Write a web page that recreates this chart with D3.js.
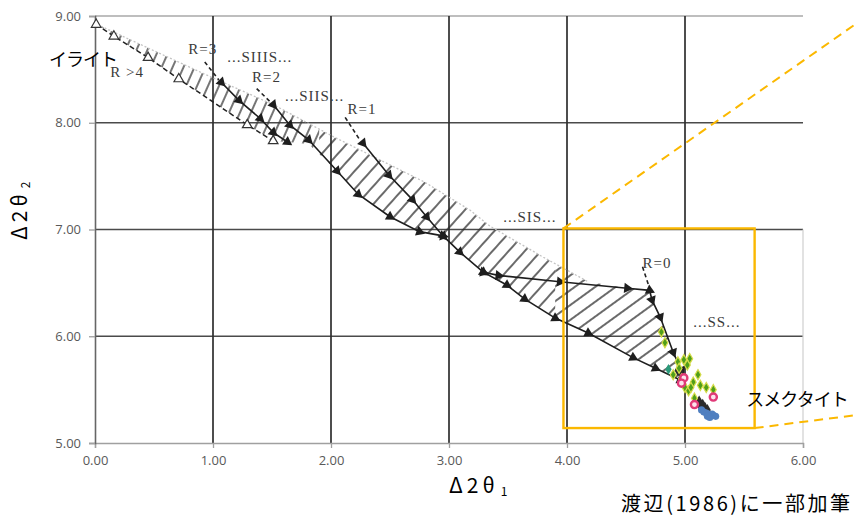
<!DOCTYPE html>
<html><head><meta charset="utf-8">
<script src="https://cdn.jsdelivr.net/npm/d3@7/dist/d3.min.js"></script>
<style>body{margin:0;background:#fff}svg{display:block}</style>
</head><body><svg id="c" width="855" height="516"></svg>
<script>
// ---------- data ----------
const xTicks = [0, 1, 2, 3, 4, 5, 6];
const yTicks = [5, 6, 7, 8, 9];
const xDomain = [0, 6];
const yDomain = [5, 9];

// R>4 lower boundary (open triangles, dashed)
const rOver4 = [[0.01,8.92],[0.16,8.81],[0.45,8.61],[0.71,8.41],[1.29,7.98],[1.51,7.83]];
// R=3 line
const r3 = [[1.07,8.38],[1.22,8.21],[1.40,8.04],[1.51,7.91],[1.63,7.82]];
// R=2 line
const r2 = [[1.51,8.17],[1.65,7.98],[1.81,7.84],[2.05,7.55],[2.23,7.33],[2.50,7.12],[2.75,6.98],[2.95,6.94]];
// R=1 line (joins the main lower boundary)
const r1 = [[2.27,7.81],[2.49,7.51],[2.69,7.28],[2.81,7.12],[2.95,6.94],[3.09,6.79],[3.29,6.60],[3.49,6.48],[3.64,6.35],[3.90,6.17],[4.18,6.03],[4.56,5.80],[4.75,5.70],[4.96,5.59]];
// R=0 line
const r0 = [[3.29,6.60],[3.42,6.57],[3.94,6.51],[4.51,6.45],[4.70,6.43],[4.72,6.34],[4.79,6.18],[4.90,5.85],[4.97,5.68]];
// leader dashes above each R line
const leaders = [
  [[0.93,8.57],[1.05,8.40]],
  [[1.37,8.32],[1.49,8.19]],
  [[2.12,8.05],[2.25,7.83]],
  [[4.64,6.65],[4.70,6.45]]
];
// upper (dotted) boundary of the hatched band
const upperBound = [[0.02,8.92],[0.47,8.69],[1.00,8.42],[1.51,8.17],[2.02,7.87],[2.80,7.44],[3.18,7.18],[3.35,7.03],[3.80,6.74],[4.18,6.51]];
// right and lower edges of the hatched band
const rightEdge = [[4.51,6.45],[4.70,6.43],[4.72,6.34],[4.79,6.18],[4.90,5.85],[4.97,5.68],[4.96,5.59]];
const lowerBound = [[0.02,8.92],[0.16,8.81],[0.45,8.61],[0.71,8.41],[1.29,7.98],[1.51,7.83],[1.63,7.82],[1.81,7.80],[2.05,7.55],[2.23,7.33],[2.50,7.12],[2.75,6.98],[2.95,6.94],[3.09,6.79],[3.29,6.60],[3.49,6.48],[3.64,6.35],[3.90,6.17],[4.18,6.03],[4.56,5.80],[4.75,5.70],[4.96,5.59]];

// measured samples
const greenPts = [[4.80,6.04],[4.83,5.94],[4.94,5.76],[4.99,5.78],[5.04,5.79],[5.02,5.73],[4.90,5.64],[4.95,5.70],[5.00,5.52],[5.03,5.49],[5.07,5.57],[5.11,5.64],[5.13,5.54],[5.18,5.52],[5.24,5.50],[5.08,5.42],[4.97,5.60],[5.05,5.52]];
const pinkPts = [[4.99,5.61],[4.97,5.56],[5.24,5.43],[5.08,5.36]];
const tealPts = [[4.86,5.69]];
const bluePts = [[5.14,5.31],[5.16,5.29],[5.18,5.28],[5.20,5.27],[5.22,5.26],[5.24,5.26],[5.26,5.25],[5.19,5.25],[5.23,5.27],[5.21,5.24]];
const darkPts = [[4.94,5.68],[4.96,5.66],[5.12,5.39],[5.15,5.36],[5.17,5.33],[5.19,5.31],[5.13,5.35]];

// zoom box and its guide lines
const zoomBox = [[3.97,7.01],[5.59,5.14]];
const guideLines = [[[3.97,7.01],[6.44,8.92]], [[5.59,5.14],[6.44,5.26]]];

// annotations
const serifLabels = [
  {t:"R >4", x:0.13, y:8.43},
  {t:"R=3", x:0.79, y:8.64},
  {t:"...SIIIS...", x:1.12, y:8.57},
  {t:"R=2", x:1.33, y:8.38},
  {t:"...SIIS...", x:1.61, y:8.20},
  {t:"R=1", x:2.14, y:8.08},
  {t:"...SIS...", x:3.46, y:7.07},
  {t:"R=0", x:4.64, y:6.64},
  {t:"...SS...", x:5.07, y:6.09}
];
const jpLabels = [
  {t:"イライト", x:-0.39, y:8.53},
  {t:"スメクタイト", x:5.52, y:5.35}
];

// ---------- drawing ----------
const svg = d3.select("#c");
const X = d3.scaleLinear().domain(xDomain).range([95, 803]);
const Y = d3.scaleLinear().domain(yDomain).range([443, 16]);
const line = d3.line().x(d => X(d[0])).y(d => Y(d[1]));

// gridlines
svg.append("g").selectAll("line").data(yTicks.filter(v => v > 5)).join("line")
  .attr("x1", X(0)).attr("x2", X(6)).attr("y1", d => Y(d)).attr("y2", d => Y(d))
  .attr("stroke", d => d === 9 ? "#a8a8a8" : "#4a4a4a").attr("stroke-width", 1.6);
svg.append("g").selectAll("line").data(xTicks.filter(v => v > 0 && v < 6)).join("line")
  .attr("x1", d => X(d)).attr("x2", d => X(d)).attr("y1", Y(9)).attr("y2", Y(5))
  .attr("stroke", "#2e2e2e").attr("stroke-width", 1.7);
svg.append("line").attr("x1", X(6)).attr("x2", X(6)).attr("y1", Y(7)).attr("y2", Y(5))
  .attr("stroke", "#cfcfcf").attr("stroke-width", 1.2);

// axes
const xAxis = svg.append("g").attr("transform", `translate(0,${Y(5)})`)
  .call(d3.axisBottom(X).tickValues(xTicks).tickFormat(d3.format(".2f")).tickSize(5).tickPadding(6));
const yAxis = svg.append("g").attr("transform", `translate(${X(0)},0)`)
  .call(d3.axisLeft(Y).tickValues(yTicks).tickFormat(d3.format(".2f")).tickSize(6).tickPadding(8));
xAxis.select(".domain").attr("stroke", "#a0a0a0").attr("stroke-width", 1.4);
yAxis.select(".domain").attr("stroke", "#666").attr("stroke-width", 1.6);
[xAxis, yAxis].forEach(a => {
  a.selectAll(".tick line").attr("stroke", "#a0a0a0").attr("stroke-width", 1.3);
  a.selectAll(".tick text").attr("fill", "#595959").attr("font-family", "'Open Sans', sans-serif").attr("font-size", 13);
});
xAxis.selectAll(".tick text").attr("dy", "0.85em");

// hatched band
const defs = svg.append("defs");
const poly = upperBound.concat(rightEdge, lowerBound.slice().reverse());
defs.append("clipPath").attr("id", "band").append("path").attr("d", line(poly) + "Z");
function hatch(id, angle, gap, color) {
  const p = defs.append("pattern").attr("id", id).attr("patternUnits", "userSpaceOnUse")
    .attr("width", gap).attr("height", 20).attr("patternTransform", `rotate(${angle})`);
  p.append("line").attr("x1", gap / 2).attr("x2", gap / 2).attr("y1", 0).attr("y2", 20)
    .attr("stroke", color).attr("stroke-width", 1.4);
}
hatch("h1", 24, 10, "#3a3a3a");
hatch("h2", 42, 12, "#2a2a2a");
hatch("h3", 54, 12, "#2a2a2a");
const band = svg.append("g").attr("clip-path", "url(#band)");
band.append("rect").attr("x", X(0)).attr("y", Y(9)).attr("width", X(1.9) - X(0)).attr("height", Y(5) - Y(9)).attr("fill", "url(#h1)");
band.append("rect").attr("x", X(1.9)).attr("y", Y(9)).attr("width", X(3.9) - X(1.9)).attr("height", Y(5) - Y(9)).attr("fill", "url(#h2)");
band.append("rect").attr("x", X(3.9)).attr("y", Y(9)).attr("width", X(5.2) - X(3.9)).attr("height", Y(5) - Y(9)).attr("fill", "url(#h3)");

// upper dotted boundary
svg.append("path").attr("d", line(upperBound)).attr("fill", "none")
  .attr("stroke", "#c4c4c4").attr("stroke-width", 1.3).attr("stroke-dasharray", "2,2");

// dashed leaders
svg.append("g").selectAll("path").data(leaders).join("path").attr("d", line)
  .attr("fill", "none").attr("stroke", "#222").attr("stroke-width", 1.6).attr("stroke-dasharray", "4,3");

// R>4 dashed line with open triangles
svg.append("path").attr("d", line(rOver4)).attr("fill", "none")
  .attr("stroke", "#222").attr("stroke-width", 1.5).attr("stroke-dasharray", "5,3");
svg.append("g").selectAll("path").data(rOver4).join("path")
  .attr("d", d3.symbol(d3.symbolTriangle, 40))
  .attr("transform", d => `translate(${X(d[0])},${Y(d[1])})`)
  .attr("fill", "#fff").attr("stroke", "#333").attr("stroke-width", 1.2);

// solid R lines with filled triangles
[r3, r2, r1, r0].forEach(s => {
  svg.append("path").attr("d", line(s)).attr("fill", "none").attr("stroke", "#1e1e1e").attr("stroke-width", 1.6);
  svg.append("g").selectAll("path").data(s).join("path")
    .attr("d", d3.symbol(d3.symbolTriangle, 45))
    .attr("transform", (d, i) => {
      const a = s[Math.min(i + 1, s.length - 1)], b = s[Math.max(i - 1, 0)];
      const ang = Math.atan2(Y(a[1]) - Y(b[1]), X(a[0]) - X(b[0])) * 180 / Math.PI + 90;
      return `translate(${X(d[0])},${Y(d[1])}) rotate(${ang})`;
    })
    .attr("fill", "#1e1e1e");
});

// measured samples
function pts(data, sym, size, fill, stroke, sw) {
  svg.append("g").selectAll("path").data(data).join("path")
    .attr("d", d3.symbol(sym, size))
    .attr("transform", d => `translate(${X(d[0])},${Y(d[1])})`)
    .attr("fill", fill).attr("stroke", stroke).attr("stroke-width", sw);
}
pts(darkPts, d3.symbolDiamond, 40, "#2b2b2b", "none", 0);
pts(bluePts, d3.symbolCircle, 40, "#4f7fc0", "none", 0);
pts(greenPts, d3.symbolDiamond, 30, "#4f9e1a", "#d6dc4a", 1.2);
pts(tealPts, d3.symbolDiamond, 34, "#2a9a7a", "none", 0);
pts(pinkPts, d3.symbolCircle, 40, "#fbe3ec", "#e03a78", 2.4);

// zoom box & guides
svg.append("rect").attr("x", X(zoomBox[0][0])).attr("y", Y(zoomBox[0][1]))
  .attr("width", X(zoomBox[1][0]) - X(zoomBox[0][0])).attr("height", Y(zoomBox[1][1]) - Y(zoomBox[0][1]))
  .attr("fill", "none").attr("stroke", "#fbb800").attr("stroke-width", 2.4);
svg.append("g").selectAll("path").data(guideLines).join("path").attr("d", line)
  .attr("fill", "none").attr("stroke", "#fbb800").attr("stroke-width", 2).attr("stroke-dasharray", "9,6");

// annotations
svg.append("g").selectAll("text").data(serifLabels).join("text")
  .attr("x", d => X(d.x)).attr("y", d => Y(d.y)).text(d => d.t)
  .attr("font-family", "'Liberation Serif', 'DejaVu Serif', serif").attr("font-size", 15)
  .attr("letter-spacing", 1).attr("fill", "#3a3a3a");
svg.append("g").selectAll("text").data(jpLabels).join("text")
  .attr("x", d => X(d.x)).attr("y", d => Y(d.y)).text(d => d.t)
  .attr("font-family", "'Noto Sans CJK JP', sans-serif").attr("font-size", 18)
  .attr("letter-spacing", -1).attr("fill", "#000");

// axis titles
const xt = svg.append("text").attr("x", 449).attr("y", 493)
  .attr("font-family", "'Noto Sans CJK JP', sans-serif").attr("font-size", 21).attr("fill", "#000");
xt.append("tspan").text("Δ2θ").attr("letter-spacing", 4);
xt.append("tspan").text("1").attr("font-size", 12).attr("dx", 2).attr("dy", 3);
const yt = svg.append("text").attr("transform", "translate(27,240) rotate(-90)")
  .attr("font-family", "'Noto Sans CJK JP', sans-serif").attr("font-size", 21).attr("fill", "#000");
yt.append("tspan").text("Δ2θ").attr("letter-spacing", 4);
yt.append("tspan").text("2").attr("font-size", 12).attr("dx", 2).attr("dy", 3);

svg.append("text").attr("x", 621).attr("y", 511).text("渡辺(1986)に一部加筆")
  .attr("font-family", "'Noto Sans CJK JP', sans-serif").attr("font-size", 20)
  .attr("letter-spacing", 2.6).attr("fill", "#000");
</script></body></html>
